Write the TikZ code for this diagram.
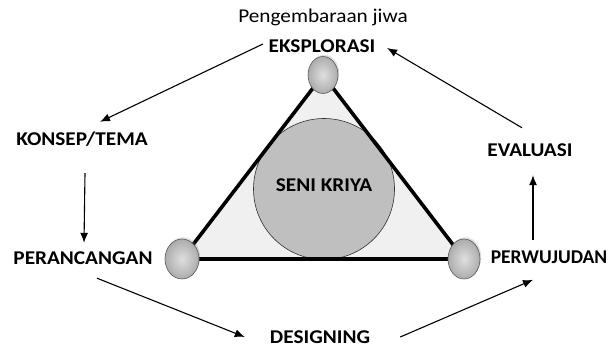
\documentclass[tikz,border=0pt]{standalone}
\usepackage{fontspec}
\setmainfont{Carlito}[FakeStretch=1.09]
\newfontfamily\narrowfam{Carlito}[FakeStretch=1.0]
\usetikzlibrary{arrows.meta,shadows,shapes.geometric}
\tikzset{
  lbl/.style={font=\bfseries\fontsize{19.5}{22}\selectfont, inner sep=2pt, text height=13pt, text depth=0pt},
  plain/.style={font=\fontsize{19.5}{22}\selectfont, inner sep=2pt},
  flow/.style={draw=black, line width=1.1pt, -{Latex[length=10pt,width=8pt]}},
  edge/.style={draw=black, line width=3.6pt, line cap=round},
  knob/.style={ellipse, draw=gray!70!black, line width=0.6pt, minimum width=32pt, minimum height=38pt,
    inner sep=0pt, inner color=gray!25, outer color=gray!65,
    drop shadow={shadow xshift=1.2pt, shadow yshift=1.8pt, opacity=0.25}},
}
\begin{document}
\begin{tikzpicture}[x=1pt,y=-1pt]
\useasboundingbox (0,0) rectangle (609,347);

% corner points of the triangle
\coordinate (vt) at (323,75);
\coordinate (vl) at (182,259);
\coordinate (vr) at (464,259);

% triangle with its light fill
\fill[gray!12] (vt) -- (vl) -- (vr) -- cycle;
% central disc
\node[circle, draw=gray!40!black, line width=0.6pt, fill=gray!50, minimum size=141pt, inner sep=0pt] (disc) at (324,189) {};
\draw[edge] (vt) -- (vl) -- (vr) -- cycle;

% knobs on the corners
\node[knob, minimum width=30pt, minimum height=37pt] (kt) at (vt) {};
\node[knob, minimum width=34pt, minimum height=40pt] (kl) at (vl) {};
\node[knob, minimum width=32pt, minimum height=40pt] (kr) at (vr) {};

\node[lbl] (seni) at (324,185) {SENI KRIYA};

% stage labels
\node[plain] (peng) at (323,17) {Pengembaraan jiwa};
\node[lbl] (eks) at (322,46) {EKSPLORASI};
\node[lbl] (kon) at (82,139) {KONSEP/TEMA};
\node[lbl] (per) at (83,258) {PERANCANGAN};
\node[lbl] (des) at (320,337) {DESIGNING};
\node[lbl, font=\narrowfam\bfseries\fontsize{19.5}{22}\selectfont] (pwj) at (549,257) {PERWUJUDAN};
\node[lbl] (eva) at (530,150) {EVALUASI};

% cycle of arrows
\draw[flow] ([xshift=-3.5pt,yshift=2pt]eks.west) -- ([xshift=18pt,yshift=8.5pt]kon.north);
\draw[flow] ([xshift=3pt,yshift=-25.5pt]kon.south) -- ([xshift=1pt,yshift=6.5pt]per.north);
\draw[flow] ([xshift=14pt,yshift=-11.5pt]per.south) -- ([xshift=-23pt]des.west);
\draw[flow] ([xshift=28pt]des.east) -- ([xshift=-16pt,yshift=-31.5pt]pwj.north);
\draw[flow] ([xshift=-16pt,yshift=8.5pt]pwj.north) -- ([xshift=3pt,yshift=-16.5pt]eva.south);
\draw[flow] ([xshift=-8pt,yshift=13.5pt]eva.north) -- ([xshift=9.5pt,yshift=-2pt]eks.east);
\end{tikzpicture}
\end{document}
